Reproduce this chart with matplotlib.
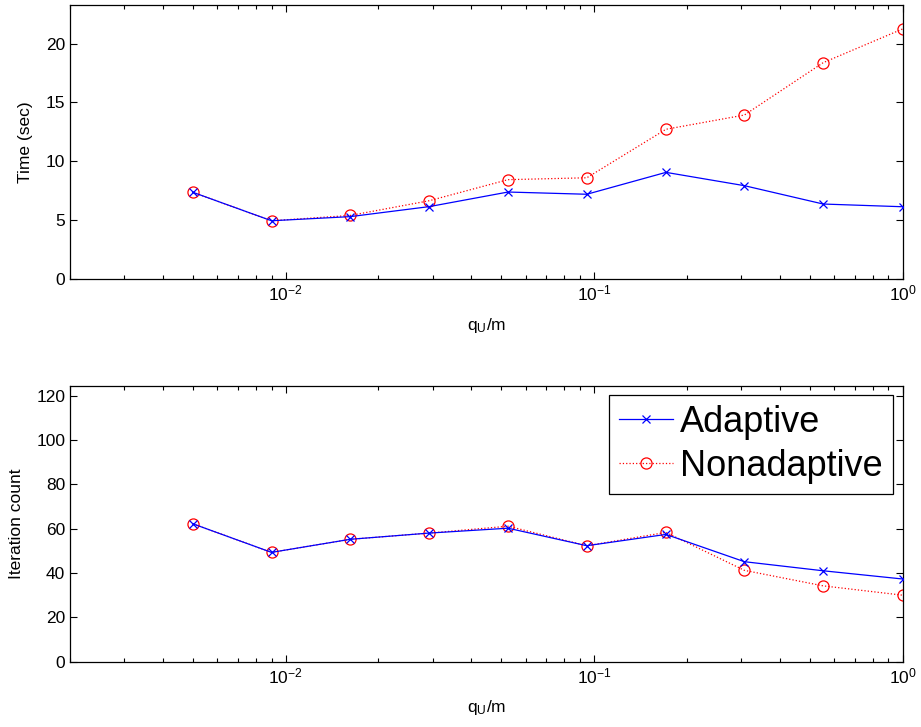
import matplotlib
matplotlib.use("Agg")
from matplotlib import pyplot as plt

plt.rcParams['font.family'] = ['Liberation Sans', 'DejaVu Sans']
plt.rcParams['mathtext.fontset'] = 'custom'
plt.rcParams['mathtext.rm'] = 'Liberation Sans'
plt.rcParams['mathtext.it'] = 'Liberation Sans'

# ______DATA______
qRatio = [0.005, 0.009, 0.0162, 0.0292, 0.0526, 0.0947, 0.171, 0.307, 0.553, 1.0]

timeAdaptive = [7.37, 4.95, 5.3, 6.15, 7.39, 7.2, 9.06, 7.93, 6.37, 6.14]
timeNonadaptive = [7.37, 4.95, 5.4, 6.65, 8.44, 8.6, 12.72, 13.93, 18.38, 21.24]

iterAdaptive = [62.2, 49.3, 55.2, 58.0, 60.2, 52.3, 57.4, 45.1, 41.0, 37.3]
iterNonadaptive = [62.2, 49.3, 55.2, 58.0, 61.1, 52.3, 58.3, 41.2, 34.2, 30.0]

seriesLabels = ["Adaptive", "Nonadaptive"]
xLabel = "q$_\\mathregular{U}$/m"
fontSize = 12.5


def styleAxis(ax, ylim, yticks, ylabel):
    ax.set_xscale("log")
    ax.set_xlim(0.002, 1)
    ax.set_ylim(*ylim)
    ax.set_yticks(yticks)
    ax.tick_params(which="both", direction="in", top=True, right=True, labelsize=fontSize, width=0.8)
    ax.tick_params(which="major", length=5)
    ax.tick_params(which="minor", length=3)
    ax.set_xlabel(xLabel, fontsize=fontSize, labelpad=8.5)
    ax.set_ylabel(ylabel, fontsize=fontSize, labelpad=9)
    for s in ax.spines.values():
        s.set_linewidth(0.9)


def plotPair(ax, a, b):
    ax.plot(qRatio, a, color="blue", linestyle="-", linewidth=0.9, marker="x",
            markersize=6, markeredgewidth=0.9, label=seriesLabels[0], zorder=3)
    ax.plot(qRatio, b, color="red", linestyle=":", linewidth=0.9, marker="o",
            markersize=8, markerfacecolor="none", markeredgewidth=0.9,
            label=seriesLabels[1], zorder=2)


fig = plt.figure(figsize=(9.21, 7.27), dpi=100)
axTop = fig.add_axes([0.076, 0.6162, 0.904, 0.3773])
axBot = fig.add_axes([0.076, 0.0898, 0.904, 0.3792])

plotPair(axTop, timeAdaptive, timeNonadaptive)
styleAxis(axTop, (0, 23.3), [0, 5, 10, 15, 20], "Time (sec)")

plotPair(axBot, iterAdaptive, iterNonadaptive)
styleAxis(axBot, (0, 124.3), [0, 20, 40, 60, 80, 100, 120], "Iteration count")

leg = axBot.legend(loc="upper right", bbox_to_anchor=(0.9696, 0.4567),
                   bbox_transform=fig.transFigure, borderaxespad=0,
                   fontsize=26, handlelength=1.5, handletextpad=0.2,
                   labelspacing=0.25, borderpad=0.28, fancybox=False,
                   framealpha=1, edgecolor="black")
leg.get_frame().set_linewidth(0.9)

fig.savefig("out.png", dpi=100)
